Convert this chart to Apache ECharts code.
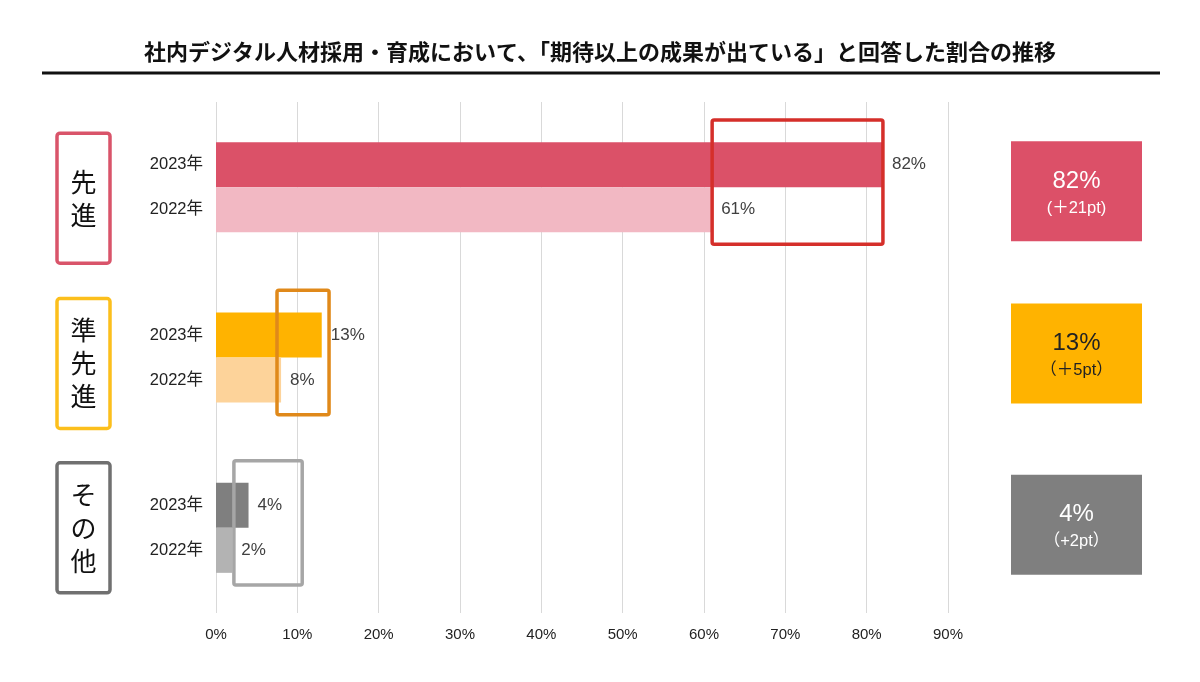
<!DOCTYPE html>
<html><head><meta charset="utf-8">
<script src="https://cdn.jsdelivr.net/npm/echarts@6/dist/echarts.min.js"></script>
<style>html,body{margin:0;padding:0;background:#fff}#c{width:1200px;height:682px}</style>
</head><body><div id="c"></div>
<script>
const title = '社内デジタル人材採用・育成において、「期待以上の成果が出ている」と回答した割合の推移';
const groups = ['先進', '準先進', 'その他'];
const years = ['2023年', '2022年'];
const values2023 = [82, 13, 4];
const values2022 = [61, 8, 2];
const summaryMain = ['82%', '13%', '4%'];
const summarySub = ['(＋21pt)', '（＋5pt）', '（+2pt）'];
const highlightFrom = [61, 7.5, 2.2];
const highlightTo = [82, 13.9, 10.6];
const xTicks = [0, 10, 20, 30, 40, 50, 60, 70, 80, 90];

const col2023 = ['#db5168', '#ffb300', '#7f7f7f'];
const col2022 = ['#f2b8c3', '#fdd39a', '#b3b3b3'];
const colHl = ['#d52f2a', '#e0891a', '#a6a6a6'];
const colLeftBox = ['#d9546a', '#fcbf1c', '#707070'];
const colRight = ['#dc5068', '#ffb300', '#7f7f7f'];
const colRightText = ['#ffffff', '#222222', '#ffffff'];

const FONT = "'Liberation Sans', 'Noto Sans CJK JP', sans-serif";
const JFONT = "'Noto Sans CJK JP', sans-serif";

const chart = echarts.init(document.getElementById('c'));
const labelStyle = {show: true, position: 'right', distance: 9, color: '#404040', fontSize: 17, fontFamily: FONT, formatter: p => p.value + '%'};

chart.setOption({
  animation: false,
  backgroundColor: '#fff',
  title: {text: title, left: 'center', top: 36, textStyle: {fontFamily: JFONT, fontWeight: 'bold', fontSize: 22, color: '#111'}},
  graphic: [{type: 'line', shape: {x1: 42, y1: 73, x2: 1160, y2: 73}, style: {stroke: '#111', lineWidth: 3}}],
  grid: {left: 216, right: 252, top: 102, bottom: 69},
  xAxis: {
    type: 'value', min: xTicks[0], max: xTicks[xTicks.length - 1], interval: 10,
    axisLine: {show: false}, axisTick: {show: false},
    splitLine: {lineStyle: {color: '#d9d9d9', width: 1}},
    axisLabel: {formatter: '{value}%', color: '#222', fontSize: 15, fontFamily: FONT, margin: 14}
  },
  yAxis: {
    type: 'category', data: groups, inverse: true,
    axisLine: {show: false}, axisTick: {show: false},
    axisLabel: {formatter: () => years.join('\n'), lineHeight: 45, color: '#222', fontSize: 16.5, fontFamily: FONT, margin: 13, align: 'right'}
  },
  series: [
    {name: years[0], type: 'bar', barWidth: 45, barGap: '0%',
     data: values2023.map((v, i) => ({value: v, itemStyle: {color: col2023[i]}})), label: labelStyle},
    {name: years[1], type: 'bar', barWidth: 45, barGap: '0%',
     data: values2022.map((v, i) => ({value: v, itemStyle: {color: col2022[i]}})), label: labelStyle},
    {type: 'custom', z: 10, clip: false,
     encode: {x: [1, 2], y: 0},
     data: groups.map((g, i) => [i, highlightFrom[i], highlightTo[i]]),
     renderItem: (params, api) => {
       const i = api.value(0);
       const band = api.size([0, 1])[1];
       const p0 = api.coord([api.value(1), i]);
       const p1 = api.coord([api.value(2), i]);
       const origin = api.coord([0, i]);
       const right = api.coord([90, i]);
       const hh = band * 0.73;
       const lOff = [11, 6, 0][i];
       const rOff = [4, -4, -3][i];
       return {type: 'group', children: [
         {type: 'rect', shape: {x: p0[0], y: p0[1] - hh / 2 - 5, width: p1[0] - p0[0], height: hh, r: 2},
          style: {fill: 'none', stroke: colHl[i], lineWidth: 3.5}},
         {type: 'rect', shape: {x: origin[0] - 159, y: origin[1] + lOff - 65, width: 53, height: 130, r: 3},
          style: {fill: '#fff', stroke: colLeftBox[i], lineWidth: 3.5}},
         {type: 'text', style: {text: groups[i].split('').join('\n'), x: origin[0] - 132.5, y: origin[1] + lOff,
           align: 'center', verticalAlign: 'middle', fontSize: 26, lineHeight: 33, fontFamily: JFONT, fill: '#111'}},
         {type: 'rect', shape: {x: right[0] + 63, y: right[1] + rOff - 50, width: 131, height: 100},
          style: {fill: colRight[i]}},
         {type: 'text', style: {text: summaryMain[i], x: right[0] + 128.5, y: right[1] + rOff - 10,
           align: 'center', verticalAlign: 'middle', fontSize: 24, fontFamily: FONT, fill: colRightText[i]}},
         {type: 'text', style: {text: summarySub[i], x: right[0] + 128.5, y: right[1] + rOff + 17,
           align: 'center', verticalAlign: 'middle', fontSize: 16.5, fontFamily: FONT, fill: colRightText[i]}}
       ]};
     }}
  ]
});
</script></body></html>
